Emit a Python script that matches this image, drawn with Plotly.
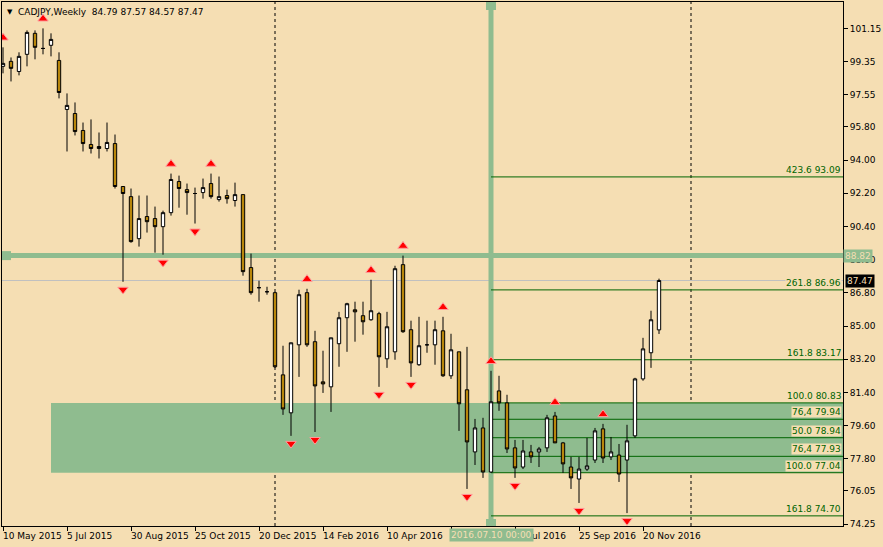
import plotly.graph_objects as go
import pandas as pd

# ---------------- data ----------------
symbol = "CADJPY"
period = "Weekly"
first_week = "2015-05-10"
n_weeks = 83

opens = [99.09, 99.36, 98.81, 99.74, 100.88, 100.06, 100.23, 99.41, 96.75, 96.53,
         95.61, 94.85, 94.74, 94.63, 94.90, 92.57, 92.02, 89.74, 90.94, 90.83,
         90.39, 91.15, 92.84, 92.40, 92.19, 92.24, 92.73, 91.86, 92.08, 91.81,
         92.13, 88.17, 87.08, 86.86, 86.81, 82.35, 80.29, 83.98, 86.81, 84.15,
         81.97, 81.70, 84.04, 85.45, 85.88, 85.56, 85.34, 85.67, 83.22, 83.60,
         88.33, 84.80, 82.90, 83.98, 83.98, 84.74, 82.30, 83.60, 81.54, 78.17,
         79.47, 77.08, 81.48, 80.83, 78.39, 77.35, 78.17, 78.17, 78.39, 80.12,
         78.66, 77.35, 76.70, 77.24, 77.73, 79.42, 77.90, 78.00, 77.73, 79.04,
         82.13, 83.55, 84.79]
highs = [100.12, 99.57, 99.85, 101.04, 101.04, 101.15, 100.88, 99.85, 97.62, 97.13,
         96.04, 96.21, 95.50, 96.04, 95.39, 92.57, 92.46, 92.08, 92.08, 91.48,
         91.26, 93.27, 93.16, 92.73, 92.51, 93.00, 93.27, 93.11, 92.40, 92.78,
         92.13, 88.93, 87.46, 87.13, 86.86, 83.93, 84.09, 86.97, 87.02, 84.74,
         83.66, 84.36, 85.77, 86.26, 86.32, 86.32, 87.51, 85.77, 85.77, 88.27,
         88.82, 85.29, 85.50, 85.29, 85.29, 85.50, 84.58, 83.60, 83.87, 79.96,
         80.02, 82.57, 82.30, 81.27, 78.82, 78.82, 78.55, 78.44, 80.18, 80.34,
         78.71, 77.90, 77.90, 78.93, 79.47, 79.69, 78.98, 78.60, 79.64, 82.19,
         84.36, 85.83, 87.57]
lows = [98.71, 98.27, 98.60, 99.09, 99.47, 99.74, 99.63, 97.35, 94.47, 95.34,
        94.47, 94.36, 94.09, 94.47, 92.46, 87.40, 89.52, 89.31, 90.07, 88.98,
        88.87, 90.99, 91.42, 91.04, 90.56, 91.91, 91.91, 91.75, 91.64, 91.48,
        87.73, 86.70, 86.32, 86.70, 82.73, 80.18, 79.04, 82.24, 83.87, 79.25,
        81.37, 80.34, 82.79, 83.60, 84.15, 84.53, 85.29, 81.70, 82.73, 83.17,
        84.63, 82.24, 82.84, 83.55, 82.90, 82.24, 82.13, 79.31, 76.16, 77.46,
        76.76, 77.03, 80.40, 78.11, 76.76, 77.24, 77.57, 77.35, 78.17, 78.66,
        77.03, 76.16, 75.40, 77.14, 77.57, 77.57, 77.73, 76.54, 74.85, 78.93,
        82.03, 82.73, 84.57]
closes = [99.25, 98.98, 99.63, 100.93, 100.12, 100.06, 100.55, 97.67, 96.97, 95.55,
          94.90, 94.63, 94.63, 94.96, 92.57, 92.19, 89.58, 90.83, 90.66, 90.39,
          91.15, 92.95, 92.46, 92.24, 92.19, 92.51, 92.02, 92.02, 91.91, 92.13,
          87.95, 86.81, 87.08, 86.86, 82.79, 80.50, 84.09, 86.70, 83.98, 81.75,
          81.86, 84.36, 85.45, 86.21, 85.77, 85.23, 85.83, 83.33, 84.96, 88.11,
          84.69, 83.00, 83.93, 83.98, 84.80, 82.30, 83.71, 80.78, 78.71, 79.47,
          77.08, 80.89, 80.83, 78.33, 77.30, 78.22, 77.90, 78.33, 80.02, 78.66,
          77.52, 76.76, 77.24, 77.41, 79.31, 77.84, 78.17, 76.97, 78.77, 82.13,
          83.76, 85.34, 87.47]

up_fractals = [0, 5, 21, 26, 38, 46, 50, 55, 61, 69, 75]
down_fractals = [15, 20, 24, 36, 39, 47, 51, 58, 64, 72, 78]

fib_ratios = ["423.6", "261.8", "161.8", "100.0", "76,4", "50.0", "76,4", "100.0", "161.8"]
fib_levels = [93.09, 86.96, 83.17, 80.83, 79.94, 78.94, 77.93, 77.04, 74.70]
zone_low, zone_high = 77.04, 80.83
zone_start_week = 6

cross_time = "2016-07-10"
cross_time_label = "2016.07.10 00:00"
cross_price = 88.82

year_separators = ["2016-01-03", "2017-01-01"]

y_ticks = [101.15, 99.35, 97.55, 95.80, 94.00, 92.20, 90.40, 88.60, 86.80, 85.00,
           83.20, 81.40, 79.60, 77.80, 76.05, 74.25]
x_label_step = 8

# ---------------- styles ----------------
BG = "#F5DEB3"
GOLD = "#B8860B"
SEA = "#8FBC8F"
FIBC = "#006400"
FONT = "DejaVu Sans"
FS = 9

dates = pd.date_range(first_week, periods=n_weeks, freq="7D")
week = pd.Timedelta(days=7)
x_start = dates[0] - week * 0.125
x_end = dates[0] + week * 105
y_range = [74.15, 102.58]

fig = go.Figure()

fig.add_trace(go.Candlestick(
    x=dates, open=opens, high=highs, low=lows, close=closes,
    increasing=dict(line=dict(color="black", width=1), fillcolor="white"),
    decreasing=dict(line=dict(color="black", width=1), fillcolor=GOLD),
    whiskerwidth=0, hoverinfo="skip", showlegend=False,
))

up_gap, down_gap = 0.52, 0.42
fig.add_trace(go.Scatter(
    x=[dates[i] for i in up_fractals], y=[highs[i] + up_gap for i in up_fractals],
    mode="markers", hoverinfo="skip", showlegend=False,
    marker=dict(symbol="triangle-up", size=9, color="#FF0000",
                line=dict(color="#FF9A9A", width=1)),
))
fig.add_trace(go.Scatter(
    x=[dates[i] for i in down_fractals], y=[lows[i] - down_gap for i in down_fractals],
    mode="markers", hoverinfo="skip", showlegend=False,
    marker=dict(symbol="triangle-down", size=9, color="#FF0000",
                line=dict(color="#FF9A9A", width=1)),
))

shapes = []
# zone rectangle
shapes.append(dict(type="rect", xref="x", yref="y", x0=dates[zone_start_week], x1=x_end,
                   y0=zone_low, y1=zone_high, fillcolor=SEA, line=dict(width=0), layer="below"))
# year separators
for d in year_separators:
    shapes.append(dict(type="line", xref="x", yref="paper", x0=d, x1=d, y0=0, y1=1,
                       line=dict(color="black", width=1, dash="3px,3px"), layer="below"))
# current price line
shapes.append(dict(type="line", xref="paper", yref="y", x0=0, x1=1, y0=closes[-1], y1=closes[-1],
                   line=dict(color="#C0C0C0", width=1), layer="below"))
# crosshair
shapes.append(dict(type="line", xref="x", yref="paper", x0=cross_time, x1=cross_time, y0=0, y1=1,
                   line=dict(color=SEA, width=5), layer="below"))
shapes.append(dict(type="line", xref="paper", yref="y", x0=0, x1=1, y0=cross_price, y1=cross_price,
                   line=dict(color=SEA, width=5), layer="below"))
shapes.append(dict(type="rect", xref="x", yref="paper", xsizemode="pixel", ysizemode="pixel",
                   xanchor=cross_time, yanchor=1, x0=-5, x1=5, y0=-8, y1=0,
                   fillcolor=SEA, line=dict(width=0), layer="below"))
shapes.append(dict(type="rect", xref="x", yref="paper", xsizemode="pixel", ysizemode="pixel",
                   xanchor=cross_time, yanchor=0, x0=-5, x1=5, y0=0, y1=7,
                   fillcolor=SEA, line=dict(width=0), layer="below"))
shapes.append(dict(type="rect", xref="paper", yref="y", xsizemode="pixel", ysizemode="pixel",
                   xanchor=0, yanchor=cross_price, x0=0, x1=9, y0=-4.5, y1=4.5,
                   fillcolor=SEA, line=dict(width=0), layer="below"))
# fibonacci lines
for lv in fib_levels:
    shapes.append(dict(type="line", xref="x", yref="y", x0=cross_time, x1=x_end, y0=lv, y1=lv,
                       line=dict(color=FIBC, width=1), layer="below"))

annotations = []
for r, lv in zip(fib_ratios, fib_levels):
    annotations.append(dict(xref="paper", yref="y", x=1, y=lv, xanchor="right", yanchor="bottom",
                            text=f"{r} {lv:.2f}", showarrow=False, yshift=1, xshift=-1,
                            font=dict(family=FONT, size=FS, color=FIBC), bgcolor=BG, borderpad=0))
# time axis labels (left aligned, MT4 style)
label_dates = dates[::x_label_step]
for d in label_dates:
    annotations.append(dict(xref="x", yref="paper", x=d, y=0, xanchor="left", yanchor="top",
                            text=f"{d.day} {d.strftime('%b %Y')}", showarrow=False,
                            xshift=-2, yshift=-3,
                            font=dict(family=FONT, size=FS, color="black")))
# title
o, h, l, c = opens[-1], highs[-1], lows[-1], closes[-1]
annotations.append(dict(xref="paper", yref="paper", x=0, y=1, xanchor="left", yanchor="top",
                        text="\u25BC", showarrow=False, xshift=3, yshift=-4,
                        font=dict(family=FONT, size=7, color="black")))
annotations.append(dict(xref="paper", yref="paper", x=0, y=1, xanchor="left", yanchor="top",
                        text=f"{symbol},{period}\u00a0\u00a0{o:.2f} {h:.2f} {l:.2f} {c:.2f}",
                        showarrow=False, xshift=14, yshift=-3,
                        font=dict(family=FONT, size=FS, color="black")))
# crosshair labels
annotations.append(dict(xref="x", yref="paper", x=cross_time, y=0, xanchor="center", yanchor="top",
                        text=cross_time_label, showarrow=False, yshift=-2,
                        font=dict(family=FONT, size=FS, color=BG), bgcolor=SEA, borderpad=1))
annotations.append(dict(xref="paper", yref="y", x=1, y=cross_price, xanchor="left", yanchor="middle",
                        text=f"{cross_price:.2f}", showarrow=False, xshift=0,
                        font=dict(family=FONT, size=FS, color=BG), bgcolor=SEA, borderpad=1))
annotations.append(dict(xref="paper", yref="y", x=1, y=closes[-1], xanchor="left", yanchor="middle",
                        text=f"{closes[-1]:.2f}", showarrow=False, xshift=2,
                        font=dict(family=FONT, size=FS, color=BG), bgcolor="black", borderpad=1))

fig.update_layout(
    width=883, height=547,
    margin=dict(l=2, r=40, t=2, b=21, pad=0),
    paper_bgcolor=BG, plot_bgcolor=BG,
    showlegend=False, hovermode=False,
    boxgap=0.4,
    font=dict(family=FONT, size=FS, color="black"),
    shapes=shapes, annotations=annotations,
    xaxis=dict(type="date", range=[x_start, x_end], rangeslider=dict(visible=False),
               showgrid=False, zeroline=False, showline=True, linecolor="black", linewidth=1,
               mirror=True, ticks="outside", ticklen=4, tickcolor="black",
               tickvals=list(label_dates), showticklabels=False, fixedrange=True),
    yaxis=dict(side="right", range=y_range, showgrid=False, zeroline=False,
               showline=True, linecolor="black", linewidth=1, mirror=True,
               ticks="outside", ticklen=4, tickcolor="black",
               tickvals=y_ticks, ticktext=[f"{v:.2f}" for v in y_ticks],
               tickfont=dict(family=FONT, size=FS, color="black"), fixedrange=True),
)

fig.write_html("out.html", config={"displayModeBar": False},
               post_script="document.body.style.margin='0';document.body.style.background='%s';" % BG)
